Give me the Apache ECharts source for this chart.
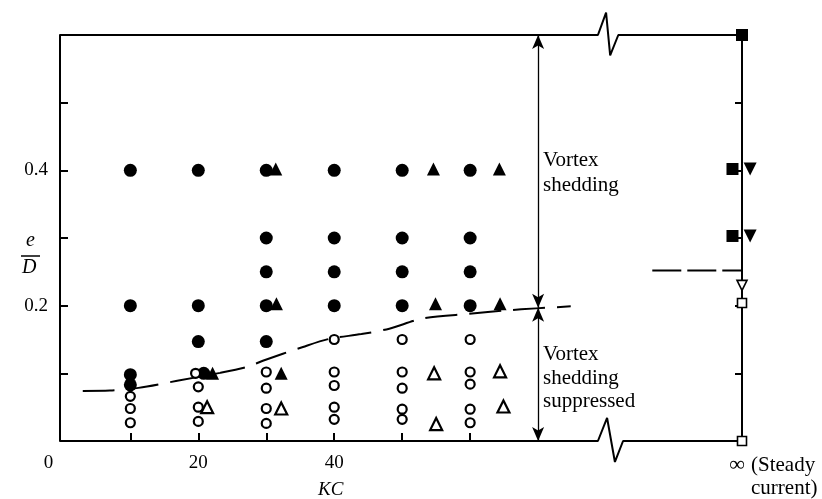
<!DOCTYPE html>
<html>
<head>
<meta charset="utf-8">
<script src="https://cdn.jsdelivr.net/npm/echarts@6/dist/echarts.min.js"></script>
<style>
html,body{margin:0;padding:0;background:#fff;}
#c{width:822px;height:499px;}
</style>
</head>
<body>
<div id="c"></div>
<script>
// ---------- data ----------
const xTickValues = [10, 20, 30, 40, 50, 60];
const xLabelValues = [0, 20, 40, 100];
const xLabelTexts = ['0', '20', '40', '\u221E'];
const yLabelValues = [0.2, 0.4];
const yLabelTexts = ['0.2', '0.4'];

// vortex shedding (filled circles)
const filledCircleKC = [10, 20, 30, 40, 50, 60, 30, 40, 50, 60, 30, 40, 50, 60, 10, 20, 30, 40, 50, 60, 20, 30, 10, 10, 20.8];
const filledCircleED = [0.4, 0.4, 0.4, 0.4, 0.4, 0.4, 0.3, 0.3, 0.3, 0.3, 0.25, 0.25, 0.25, 0.25, 0.2, 0.2, 0.2, 0.2, 0.2, 0.2, 0.147, 0.147, 0.098, 0.083, 0.1];
// no shedding (open circles)
const openCircleKC = [10, 10, 10, 19.6, 20, 20, 20, 30, 30, 30, 30, 40, 40, 40, 40, 40, 50, 50, 50, 50, 50, 60, 60, 60, 60, 60];
const openCircleED = [0.066, 0.048, 0.027, 0.1, 0.08, 0.05, 0.029, 0.102, 0.078, 0.048, 0.026, 0.15, 0.102, 0.082, 0.05, 0.032, 0.15, 0.102, 0.078, 0.047, 0.032, 0.15, 0.102, 0.084, 0.047, 0.027];
// filled triangles
const filledTriKC = [31.4, 54.6, 64.3, 31.5, 54.9, 64.4, 22.1, 32.2];
const filledTriED = [0.402, 0.402, 0.402, 0.203, 0.203, 0.203, 0.1, 0.1];
// open triangles
const openTriKC = [21.3, 32.2, 54.7, 55.0, 64.4, 64.9];
const openTriED = [0.05, 0.048, 0.1, 0.025, 0.103, 0.051];
// steady current (KC = infinity, drawn at 100)
const filledSquareKC = [100, 98.6, 98.6];
const filledSquareED = [0.6, 0.402, 0.303];
const filledDownTriKC = [101.2, 101.2];
const filledDownTriED = [0.402, 0.303];
const openDownTriKC = [100];
const openDownTriED = [0.23];
const openSquareKC = [100, 100];
const openSquareED = [0.204, 0.0];

// boundary curve (dashed)
const boundaryKC = [3, 7, 11.2, 16.9, 23.2, 27.2, 29.5, 35.4, 39.3, 44, 48.1, 53, 59.9, 65.3, 69.7, 74.8];
const boundaryED = [0.074, 0.0745, 0.0785, 0.089, 0.1007, 0.1096, 0.1185, 0.139, 0.151, 0.158, 0.166, 0.181, 0.188, 0.193, 0.196, 0.199];
// steady current boundary
const steadyKC = [86.8, 101.5];
const steadyED = [0.252, 0.252];

// region arrows
const arrowKC = 70;
const arrowTop = 0.6, arrowMid = 0.197, arrowBottom = 0;

// frame with axis-break symbols
const frameTopKC = [-0.35, 78.8, 80.0, 80.6, 81.8, 100];
const frameTopED = [0.6, 0.6, 0.633, 0.57, 0.6, 0.6];
const frameBotKC = [-0.35, 78.8, 80.15, 81.3, 82.5, 100];
const frameBotED = [0, 0, 0.034, -0.031, 0, 0];

const zip = (a, b) => a.map((v, i) => [v, b[i]]);

// ---------- chart ----------
const chart = echarts.init(document.getElementById('c'), null, {renderer: 'canvas'});
const serif = '"Liberation Serif", "DejaVu Serif", serif';
const black = '#000';

function scatter(kc, ed, symbol, size, filled, extra) {
  return Object.assign({
    type: 'scatter',
    data: zip(kc, ed),
    symbol: symbol,
    symbolSize: size,
    clip: false,
    z: 5,
    itemStyle: filled
      ? {color: black, borderWidth: 0, opacity: 1}
      : {color: '#fff', borderColor: black, borderWidth: 2.2, opacity: 1},
    emphasis: {disabled: true},
    silent: true
  }, extra || {});
}

const option = {
  animation: false,
  backgroundColor: '#fff',
  grid: {left: 60, right: 80, top: 35, bottom: 58},
  xAxis: {
    type: 'value',
    min: -0.35,
    max: 100,
    axisLine: {show: false},
    splitLine: {show: false},
    axisTick: {
      show: true,
      inside: true,
      length: 8,
      customValues: xTickValues,
      lineStyle: {color: black, width: 2}
    },
    axisLabel: {
      show: true,
      customValues: xLabelValues,
      margin: 13,
      color: black,
      fontFamily: serif,
      fontSize: 19,
      formatter: function (v) {
        const i = xLabelValues.findIndex(x => Math.abs(x - v) < 1e-6);
        if (i < 0) return '';
        if (v === 0) return '{l|' + xLabelTexts[i] + '}';
        if (v === 100) return '{inf|' + xLabelTexts[i] + '}';
        return xLabelTexts[i];
      },
      rich: {
        l: {fontFamily: serif, fontSize: 19, color: black, padding: [0, 28, 0, 0]},
        inf: {fontFamily: serif, fontSize: 22, color: black, padding: [0, 10, 16, 0]}
      }
    }
  },
  yAxis: [{
    type: 'value',
    min: 0,
    max: 0.6,
    interval: 0.1,
    position: 'left',
    axisLine: {show: true, onZero: false, lineStyle: {color: black, width: 2}},
    splitLine: {show: false},
    axisTick: {show: true, inside: true, length: 8, lineStyle: {color: black, width: 2}},
    axisLabel: {
      color: black,
      fontFamily: serif,
      fontSize: 19,
      margin: 12,
      formatter: function (v) {
        const i = yLabelValues.findIndex(x => Math.abs(x - v) < 1e-6);
        return i < 0 ? '' : yLabelTexts[i];
      }
    }
  }, {
    type: 'value',
    min: 0,
    max: 0.6,
    interval: 0.1,
    position: 'right',
    axisLine: {show: true, onZero: false, lineStyle: {color: black, width: 2}},
    splitLine: {show: false},
    axisTick: {show: true, inside: true, length: 7, lineStyle: {color: black, width: 2}},
    axisLabel: {show: false}
  }],
  series: [
    // frame
    {type: 'line', data: zip(frameTopKC, frameTopED), symbol: 'none', clip: false, silent: true,
     lineStyle: {color: black, width: 2}, z: 3},
    {type: 'line', data: zip(frameBotKC, frameBotED), symbol: 'none', clip: false, silent: true,
     lineStyle: {color: black, width: 2}, z: 3},
    // boundary
    {type: 'line', data: zip(boundaryKC, boundaryED), symbol: 'none', smooth: 0.3, clip: false, silent: true,
     lineStyle: {color: black, width: 2, type: [32, 12]}, z: 4},
    {type: 'line', data: zip(steadyKC, steadyED), symbol: 'none', clip: false, silent: true,
     lineStyle: {color: black, width: 2, type: [29, 6]}, z: 4},
    // arrows
    {type: 'line', data: [], silent: true,
     markLine: {
       silent: true,
       symbol: ['arrow', 'arrow'],
       symbolSize: [9, 14],
       label: {show: false},
       lineStyle: {color: black, width: 1.3, type: 'solid', opacity: 1},
       itemStyle: {color: black, opacity: 1},
       emphasis: {disabled: true},
       data: [
         [{coord: [arrowKC, arrowTop]}, {coord: [arrowKC, arrowMid]}],
         [{coord: [arrowKC, arrowBottom]}, {coord: [arrowKC, arrowMid]}]
       ]
     }},
    scatter(filledCircleKC, filledCircleED, 'circle', 13, true),
    scatter(openCircleKC, openCircleED, 'circle', 9, false),
    scatter(filledTriKC, filledTriED, 'triangle', 13, true),
    scatter(openTriKC, openTriED, 'triangle', 12, false),
    scatter(filledSquareKC, filledSquareED, 'rect', 12, true),
    scatter(filledDownTriKC, filledDownTriED, 'triangle', 13, true, {symbolRotate: 180}),
    scatter(openDownTriKC, openDownTriED, 'triangle', 10, false, {symbolRotate: 180, itemStyle: {color: '#fff', borderColor: black, borderWidth: 1.6, opacity: 1}}),
    scatter(openSquareKC, openSquareED, 'rect', 9, false, {itemStyle: {color: '#fff', borderColor: black, borderWidth: 1.6, opacity: 1}})
  ],
  graphic: [
    {type: 'text', left: 543, top: 148, style: {text: 'Vortex\nshedding', font: '21px ' + serif, fill: black, lineHeight: 25}},
    {type: 'text', left: 543, top: 343, style: {text: 'Vortex\nshedding\nsuppressed', font: '21px ' + serif, fill: black, lineHeight: 23.5}},
    {type: 'text', left: 751, top: 454, style: {text: '(Steady\ncurrent)', font: '21px ' + serif, fill: black, lineHeight: 23}},
    {type: 'text', left: 318, top: 480, style: {text: 'KC', font: 'italic 19px ' + serif, fill: black}},
    {type: 'text', left: 26, top: 231, style: {text: 'e', font: 'italic 20px ' + serif, fill: black}},
    {type: 'line', shape: {x1: 21, y1: 256, x2: 40, y2: 256}, style: {stroke: black, lineWidth: 1.5}},
    {type: 'text', left: 22, top: 258, style: {text: 'D', font: 'italic 20px ' + serif, fill: black}}
  ]
};
chart.setOption(option);
</script>
</body>
</html>
